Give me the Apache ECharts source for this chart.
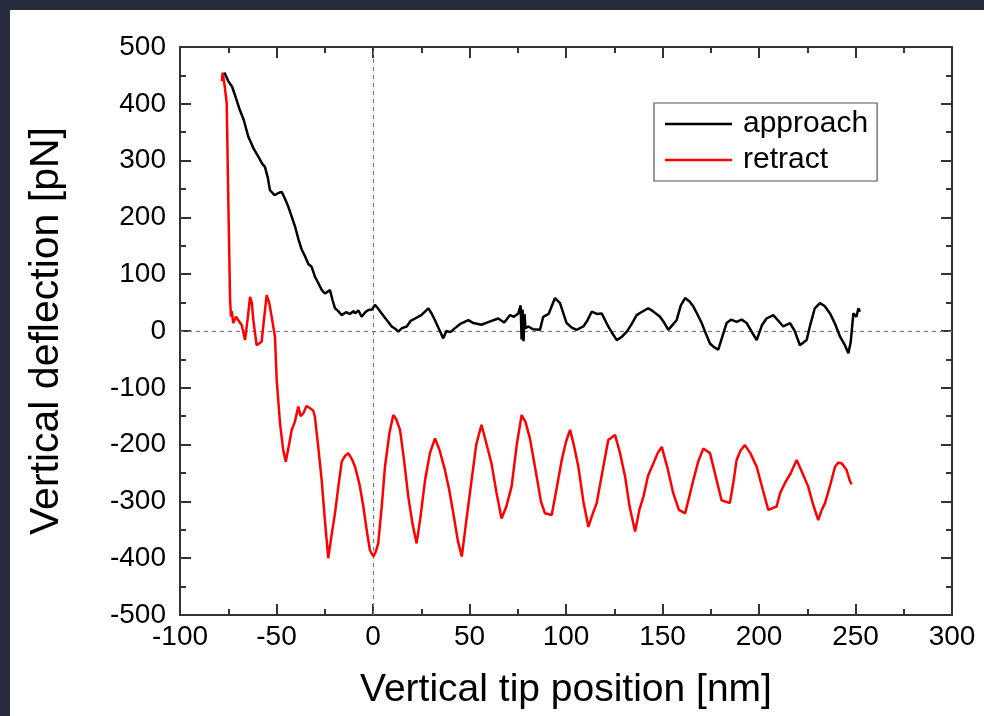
<!DOCTYPE html>
<html>
<head>
<meta charset="utf-8">
<script src="https://cdn.jsdelivr.net/npm/echarts@6/dist/echarts.min.js"></script>
<style>
  html, body { margin: 0; padding: 0; width: 984px; height: 716px; background: #262c3c; overflow: hidden; }
  #chart { position: absolute; left: 10px; top: 10px; width: 974px; height: 706px; background: #ffffff; }
</style>
</head>
<body>
<div id="chart"></div>
<script>
// ---- data ----
const approachX = [-77, -76.5, -75, -73, -71, -69, -67, -64.6, -62, -59.4, -57.5, -56, -54.5, -53.4, -51, -49, -47.3, -45.5, -43.9, -42, -40.4, -38.5, -36.9, -35, -33.5, -31.8, -30, -28.3, -26.5, -24.9, -22.3, -21, -19.7, -18, -16.2, -14, -12, -10, -9.3, -7.5, -5.9, -4, -2.4, -0.5, 1.0, 2.5, 4.5, 7, 9.7, 11.5, 13.1, 15, 17.5, 19.5, 21.8, 25, 28.7, 30.5, 32.1, 34, 36.4, 38, 40, 42.5, 45, 49.4, 52, 56.2, 60, 64.9, 68, 71.0, 73, 75.3, 76.5, 77, 77.5, 78, 78.5, 79, 80.5, 83, 86.5, 88.2, 91, 94.3, 96.9, 100.3, 103, 105.5, 109.0, 111, 113.3, 116, 118.5, 121.9, 124, 126.3, 129, 131.5, 134, 136.6, 139, 142.6, 145, 148.7, 151, 153.0, 155, 157.3, 159.5, 161.7, 164, 166.0, 168, 170.3, 172.5, 174.6, 176.5, 178.9, 181, 183.2, 185.5, 188.4, 191, 193.6, 196, 198.8, 201.5, 203.9, 207.4, 210, 212.6, 216.1, 218.5, 221.2, 224.7, 226.5, 228.9, 231.6, 234, 236.8, 239.5, 242.0, 244.5, 246.3, 247.5, 248.9, 250.5, 251.5, 252.3];
const approachY = [455, 452, 440, 430, 410, 389, 372, 342, 322, 307, 295, 289, 270, 248, 239, 243, 245, 232, 219, 200, 184, 160, 143, 130, 118, 113, 95, 84, 72, 66, 72, 55, 40, 35, 28, 33, 30, 35, 31, 36, 25, 33, 37, 38, 46, 40, 31, 20, 8, 4, -1, 5, 8, 18, 22, 28, 40, 30, 19, 5, -13, 0, -2, 5, 12, 19, 14, 11, 16, 22, 15, 28, 25, 31, 45, -15, 38, -18, 30, 5, 8, 3, 2, 25, 30, 58, 49, 14, 6, 2, 8, 18, 34, 30, 31, 8, -4, -16, -10, -1, 12, 28, 33, 40, 35, 25, 14, 2, 10, 19, 45, 58, 52, 43, 30, 14, -5, -22, -28, -33, -10, 14, 20, 16, 20, 14, 0, -16, 10, 22, 28, 18, 8, 14, 0, -25, -16, 10, 40, 49, 44, 31, 12, -10, -25, -39, -20, 31, 25, 40, 34];

const retractX = [-78.3, -77.9, -76.8, -75.8, -75.0, -74.4, -74.1, -73.6, -73.2, -72.4, -71, -69.8, -68, -66.3, -65, -63.7, -62.8, -62.0, -60.3, -57.7, -56.5, -55.1, -53.8, -52.5, -50.8, -49.9, -48.2, -46.5, -45.2, -43.5, -42.1, -40.5, -38.7, -37.5, -36.1, -34.5, -32.6, -31, -30.1, -28.5, -26.6, -25, -23.2, -21.5, -19.7, -18, -16.2, -14.5, -12.8, -11, -9.3, -7, -5.0, -3.3, -1.6, 0.2, 1.5, 2.7, 4.5, 6.2, 8.5, 10.5, 12, 14.0, 16, 18.3, 20.5, 22.6, 24.5, 27.0, 29.5, 32.1, 34.5, 37.3, 39.5, 41.6, 44, 46.0, 48.5, 51.1, 53.5, 56.2, 58.5, 61.4, 64, 66.6, 69, 71.8, 74.5, 77.0, 79, 81.3, 84.8, 87, 89.1, 92.6, 95, 97.8, 100, 102.1, 104, 106.4, 109, 111.6, 113.5, 115.9, 119, 121.9, 125.4, 128, 130.6, 133, 135.8, 138, 140.1, 142.5, 145.3, 147.5, 149.6, 152.5, 155.6, 158.5, 161.7, 164, 166.0, 168.5, 171.1, 174.6, 177.5, 180.6, 184.9, 186.8, 188.4, 190.5, 192.7, 195.5, 198.8, 202, 204.8, 207, 209.1, 211, 213.4, 216.5, 219.5, 222.5, 225.5, 228, 230.7, 232.5, 234.2, 237, 239.4, 241, 242.8, 244, 245.4, 247.2, 248];
const retractY = [440, 455, 430, 401, 236, 120, 60, 25, 35, 14, 25, 19, 10, -16, 20, 60, 50, 19, -25, -19, 20, 63, 50, 25, -10, -86, -162, -210, -230, -200, -174, -160, -133, -150, -145, -132, -136, -140, -151, -200, -262, -330, -400, -360, -321, -275, -230, -220, -215, -225, -239, -270, -309, -350, -386, -397, -388, -374, -310, -239, -180, -148, -155, -174, -225, -292, -340, -374, -330, -262, -215, -189, -210, -245, -280, -321, -370, -397, -330, -262, -200, -165, -195, -233, -285, -330, -310, -274, -200, -148, -160, -189, -256, -300, -321, -324, -280, -227, -195, -174, -200, -239, -300, -345, -325, -303, -245, -192, -183, -215, -256, -310, -353, -315, -292, -255, -233, -215, -204, -240, -286, -315, -321, -290, -262, -230, -207, -215, -255, -298, -303, -265, -227, -210, -201, -215, -239, -280, -315, -312, -309, -285, -268, -250, -227, -250, -274, -305, -333, -315, -303, -270, -239, -232, -233, -238, -245, -265, -270];

const seriesNames = ['approach', 'retract'];
const xTickMin = -100, xTickMax = 300, xTickStep = 50;
const yTickMin = -500, yTickMax = 500, yTickStep = 100;
const xTitle = 'Vertical tip position [nm]';
const yTitle = 'Vertical deflection [pN]';

const zip = (xs, ys) => xs.map((x, i) => [x, ys[i]]);

const FONT = '"Liberation Sans", Arial, sans-serif';
const AX = '#333333';

function mkX(pos, labels) {
  return {
    type: 'value', position: pos, min: xTickMin, max: xTickMax, interval: xTickStep,
    name: labels ? xTitle : '', nameLocation: 'middle', nameGap: 56,
    nameTextStyle: { fontSize: 39, color: '#000', fontFamily: FONT },
    axisLine: { show: true, onZero: false, lineStyle: { color: AX, width: 2 } },
    axisTick: { show: true, inside: true, length: 11, lineStyle: { color: AX, width: 2 } },
    minorTick: { show: true, splitNumber: 2, length: 6, lineStyle: { color: AX, width: 2 } },
    axisLabel: { show: labels, fontSize: 28, color: '#000', fontFamily: FONT, margin: 8 },
    splitLine: { show: false }, minorSplitLine: { show: false }
  };
}
function mkY(pos, labels) {
  return {
    type: 'value', position: pos, min: yTickMin, max: yTickMax, interval: yTickStep,
    name: labels ? yTitle : '', nameLocation: 'middle', nameGap: 113,
    nameTextStyle: { fontSize: 41, color: '#000', fontFamily: FONT },
    axisLine: { show: true, onZero: false, lineStyle: { color: AX, width: 2 } },
    axisTick: { show: true, inside: true, length: 11, lineStyle: { color: AX, width: 2 } },
    minorTick: { show: true, splitNumber: 2, length: 6, lineStyle: { color: AX, width: 2 } },
    axisLabel: { show: labels, fontSize: 28, color: '#000', fontFamily: FONT, margin: 14 },
    splitLine: { show: false }, minorSplitLine: { show: false }
  };
}

const chart = echarts.init(document.getElementById('chart'), null, { renderer: 'canvas' });
chart.setOption({
  animation: false,
  backgroundColor: '#ffffff',
  grid: { left: 170, top: 37, right: 32, bottom: 101, containLabel: false },
  legend: {
    show: true, orient: 'vertical', left: 644, top: 93,
    data: seriesNames,
    icon: 'rect',
    itemWidth: 67, itemHeight: 2.5, itemGap: 6,
    padding: [6, 9, 6, 11],
    borderColor: '#555', borderWidth: 1.2, backgroundColor: '#fff',
    textStyle: { fontSize: 30, color: '#000', fontFamily: FONT, padding: [0, 0, 0, 6] },
    selectedMode: false
  },
  xAxis: [mkX('bottom', true), mkX('top', false)],
  yAxis: [mkY('left', true), mkY('right', false)],
  series: [
    {
      name: seriesNames[0], type: 'line', xAxisIndex: 0, yAxisIndex: 0,
      data: zip(approachX, approachY), symbol: 'none', showSymbol: false,
      lineStyle: { color: '#000000', width: 2.5 }, itemStyle: { color: '#000000' },
      z: 3,
      markLine: {
        silent: true, symbol: ['none', 'none'], label: { show: false },
        lineStyle: { color: '#777', width: 1.2, type: [4, 4] },
        data: [{ xAxis: 0 }, { yAxis: 0 }],
        z: 1
      }
    },
    {
      name: seriesNames[1], type: 'line', xAxisIndex: 0, yAxisIndex: 0,
      data: zip(retractX, retractY), symbol: 'none', showSymbol: false,
      lineStyle: { color: '#ff0000', width: 2.5 }, itemStyle: { color: '#ff0000' },
      z: 3
    }
  ]
});
</script>
</body>
</html>
